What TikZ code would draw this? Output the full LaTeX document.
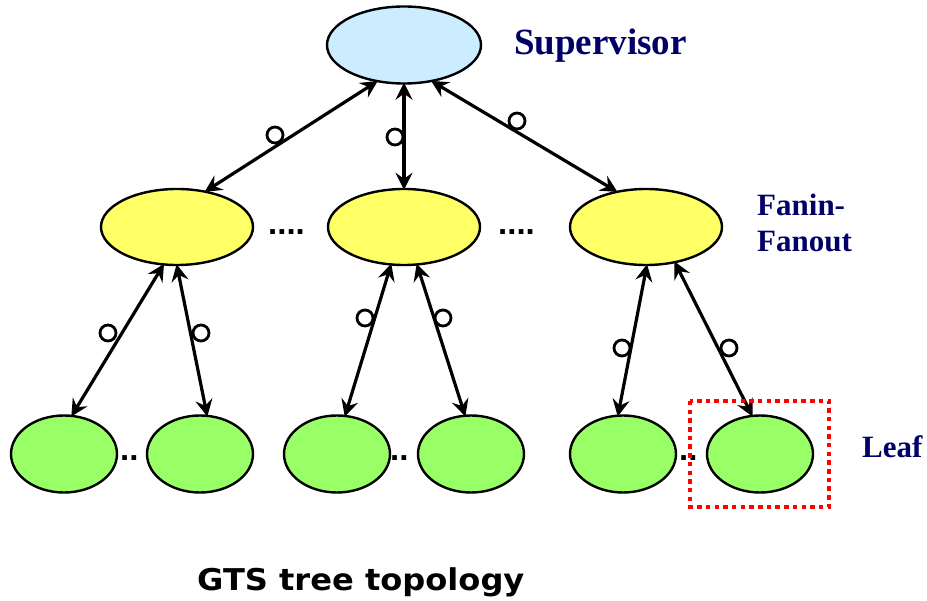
\documentclass[tikz,border=0pt]{standalone}
\usepackage{fontspec}
\setmainfont{Liberation Serif}
\newfontfamily\dotsfont{Liberation Sans}
\newfontfamily\capfont{DejaVu Sans}
\usetikzlibrary{shapes.geometric,arrows.meta}
\definecolor{supfill}{RGB}{204,236,255}
\definecolor{fanfill}{RGB}{255,255,102}
\definecolor{leaffill}{RGB}{153,255,102}
\definecolor{navy}{RGB}{0,0,102}
\tikzset{
  blob/.style={ellipse, draw=black, line width=2.4pt, inner sep=0pt},
  supbox/.style={blob, fill=supfill, minimum width=154pt, minimum height=77pt},
  fanbox/.style={blob, fill=fanfill, minimum width=152pt, minimum height=76pt},
  leafbox/.style={blob, fill=leaffill, minimum width=106pt, minimum height=77pt},
  link/.style={line width=3.2pt, {Stealth[length=17pt,width=17pt,inset=6pt]}-{Stealth[length=17pt,width=17pt,inset=6pt]}, shorten <=-2pt, shorten >=-2pt},
  ring/.style={circle, draw=black, line width=2.8pt, fill=white, minimum size=16pt, inner sep=0pt},
  lvl/.style={text=navy, font=\bfseries\fontsize{31}{33}\selectfont, anchor=base west, inner sep=0pt},
  dotstext/.style={font=\dotsfont\bfseries\fontsize{33}{33}\selectfont, anchor=base west, inner sep=0pt},
}
\begin{document}
\begin{tikzpicture}[x=1pt,y=-1pt]
\useasboundingbox (0,0) rectangle (927,601);
% nodes
\node[supbox] (sup) at (404,45) {};
\node[fanbox] (f1) at (177,227) {};
\node[fanbox] (f2) at (404,227) {};
\node[fanbox] (f3) at (646,227) {};
\node[leafbox] (l1) at (64,454) {};
\node[leafbox] (l2) at (200,454) {};
\node[leafbox] (l3) at (337,454) {};
\node[leafbox] (l4) at (471,454) {};
\node[leafbox] (l5) at (623,454) {};
\node[leafbox] (l6) at (760,454) {};
% connectors
\draw[link] (sup.-127) -- (f1.51.5);
\draw[link] (sup.-90) -- (f2.90);
\draw[link] (sup.-52) -- (f3.130);
\draw[link] (f1.-110.6) -- (l1.78);
\draw[link] (f1.-90) -- (l2.80);
\draw[link] (f2.-109) -- (l3.78);
\draw[link] (f2.-71) -- (l4.99);
\draw[link] (f3.-89) -- (l5.97);
\draw[link] (f3.-51) -- (l6.102);
% rings
\node[ring] (r1) at (275,135) {};
\node[ring] (r2) at (395,137) {};
\node[ring] (r3) at (517,121) {};
\node[ring] (r4) at (108,333) {};
\node[ring] (r5) at (201,333) {};
\node[ring] (r6) at (365,318) {};
\node[ring] (r7) at (443,318) {};
\node[ring] (r8) at (622,348) {};
\node[ring] (r9) at (729,348) {};
% dots
\node[dotstext] (d1) at (268,235) {....};
\node[dotstext] (d2) at (498,235) {....};
\node[dotstext] (d3) at (120,461) {..};
\node[dotstext] (d4) at (390,461) {..};
\node[dotstext] (d5) at (679,461) {..};
% highlight
\draw[red, line width=3.8pt, dash pattern=on 4.5pt off 4.2pt] (690,401) rectangle (829,507);
% labels
\node[lvl, font=\bfseries\fontsize{37}{39}\selectfont] (tsup) at (514,55) {Supervisor};
\node[lvl] (tfan1) at (757,216) {Fanin-};
\node[lvl] (tfan2) at (757,252) {Fanout};
\node[lvl] (tleaf) at (862,458) {Leaf};
\node[anchor=base west, inner sep=0pt, font=\capfont\bfseries\fontsize{30}{32}\selectfont] (cap) at (197,590) {\scalebox{1.07}[1]{GTS tree topology}};
\end{tikzpicture}
\end{document}
